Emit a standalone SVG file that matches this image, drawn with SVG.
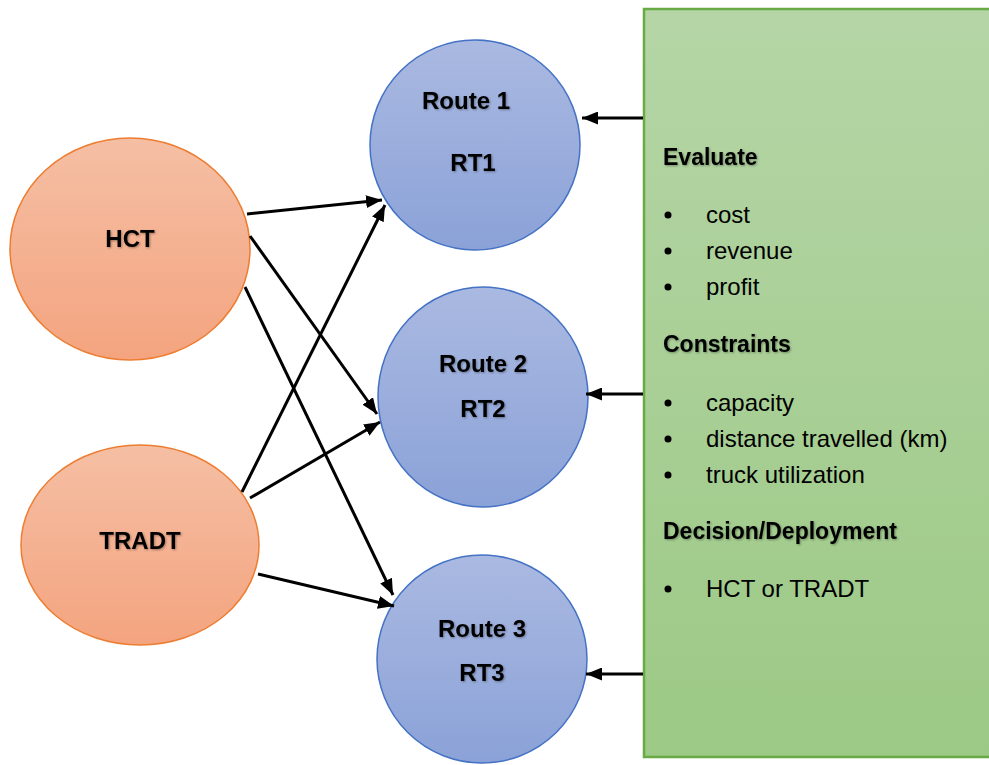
<svg xmlns="http://www.w3.org/2000/svg" width="989" height="765" viewBox="0 0 989 765">
  <defs>
    <linearGradient id="gOrange" x1="0" y1="0" x2="0" y2="1">
      <stop offset="0" stop-color="#F5BFA4"/>
      <stop offset="1" stop-color="#F4A47F"/>
    </linearGradient>
    <linearGradient id="gBlue" x1="0" y1="0" x2="0" y2="1">
      <stop offset="0" stop-color="#AAB9E1"/>
      <stop offset="1" stop-color="#8BA2D8"/>
    </linearGradient>
    <linearGradient id="gGreen" x1="0" y1="0" x2="0" y2="1">
      <stop offset="0" stop-color="#B5D5A6"/>
      <stop offset="1" stop-color="#9CC985"/>
    </linearGradient>
    <filter id="shadow" x="-10%" y="-20%" width="120%" height="140%">
      <feDropShadow dx="1" dy="1" stdDeviation="0.8" flood-color="#000" flood-opacity="0.35"/>
    </filter>
    <marker id="arrow" viewBox="0 0 16 13" refX="16" refY="6.5" markerWidth="16" markerHeight="13" markerUnits="userSpaceOnUse" orient="auto">
      <path d="M0,0 L16,6.5 L0,13 Z" fill="#000"/>
    </marker>
  </defs>
  <style>
    .orange { fill: url(#gOrange); stroke: #ED7D31; stroke-width: 1.5; }
    .blue { fill: url(#gBlue); stroke: #4472C4; stroke-width: 1.5; }
    .green { fill: url(#gGreen); stroke: #6AAA44; stroke-width: 2.5; }
    .lbl { font-family: "Liberation Sans", Arial, sans-serif; font-weight: bold; font-size: 24px; fill: #000; text-anchor: middle; filter: url(#shadow); }
    .head { font-family: "Liberation Sans", Arial, sans-serif; font-weight: bold; font-size: 23px; fill: #000; filter: url(#shadow); }
    .item { font-family: "Liberation Sans", Arial, sans-serif; font-size: 24px; fill: #000; }
    .conn { stroke: #000; stroke-width: 3; fill: none; marker-end: url(#arrow); }
  </style>
  <rect width="989" height="765" fill="#FFFFFF"/>

  <g id="panel">
    <rect class="green" x="644" y="9" width="360" height="748"/>
    <text class="head" x="663" y="165">Evaluate</text>
    <circle cx="668" cy="215" r="3.5"/>
    <text class="item" x="706" y="223">cost</text>
    <circle cx="668" cy="251" r="3.5"/>
    <text class="item" x="706" y="259">revenue</text>
    <circle cx="668" cy="287" r="3.5"/>
    <text class="item" x="706" y="295">profit</text>
    <text class="head" x="663" y="352">Constraints</text>
    <circle cx="668" cy="403" r="3.5"/>
    <text class="item" x="706" y="411">capacity</text>
    <circle cx="668" cy="439" r="3.5"/>
    <text class="item" x="706" y="447">distance travelled (km)</text>
    <circle cx="668" cy="475" r="3.5"/>
    <text class="item" x="706" y="483">truck utilization</text>
    <text class="head" x="663" y="539">Decision/Deployment</text>
    <circle cx="668" cy="589" r="3.5"/>
    <text class="item" x="706" y="597">HCT or TRADT</text>
  </g>

  <g id="hct">
    <ellipse class="orange" cx="130" cy="249" rx="120" ry="111"/>
    <text class="lbl" x="130" y="247">HCT</text>
  </g>
  <g id="tradt">
    <ellipse class="orange" cx="140" cy="545" rx="119" ry="100"/>
    <text class="lbl" x="140" y="549">TRADT</text>
  </g>
  <g id="route1">
    <ellipse class="blue" cx="475" cy="145" rx="105" ry="105"/>
    <text class="lbl" x="466" y="109">Route 1</text>
    <text class="lbl" x="473" y="171">RT1</text>
  </g>
  <g id="route2">
    <ellipse class="blue" cx="483" cy="397" rx="105" ry="110"/>
    <text class="lbl" x="483" y="372">Route 2</text>
    <text class="lbl" x="483" y="417">RT2</text>
  </g>
  <g id="route3">
    <ellipse class="blue" cx="482" cy="659" rx="105" ry="104"/>
    <text class="lbl" x="482" y="637">Route 3</text>
    <text class="lbl" x="482" y="681">RT3</text>
  </g>

  <g id="connectors">
    <line class="conn" x1="247" y1="214" x2="382" y2="200"/>
    <line class="conn" x1="250" y1="236" x2="377" y2="414"/>
    <line class="conn" x1="245" y1="287" x2="393" y2="595"/>
    <line class="conn" x1="242" y1="492" x2="385" y2="205"/>
    <line class="conn" x1="250" y1="498" x2="380" y2="422"/>
    <line class="conn" x1="258" y1="574" x2="394" y2="606"/>
    <line class="conn" x1="643" y1="118" x2="582" y2="118"/>
    <line class="conn" x1="643" y1="394" x2="586" y2="394"/>
    <line class="conn" x1="643" y1="674" x2="586" y2="674"/>
  </g>
</svg>
